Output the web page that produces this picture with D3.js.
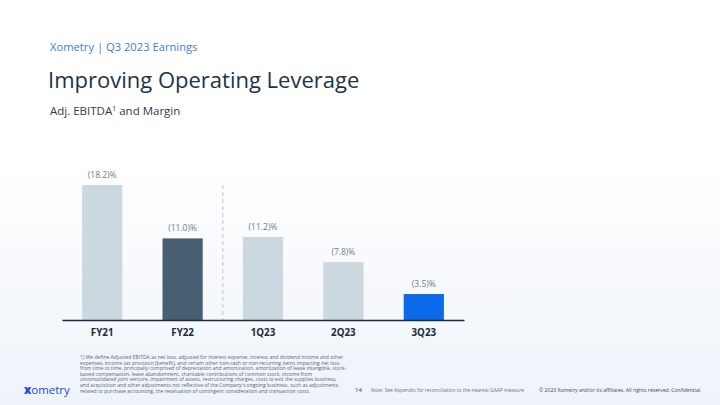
<!DOCTYPE html>
<html><head><meta charset="utf-8">
<script src="https://cdn.jsdelivr.net/npm/d3@7"></script>
<style>body{margin:0;padding:0;overflow:hidden}svg{display:block}text{font-family:"Open Sans",sans-serif}</style>
</head><body>
<svg id="c" width="720" height="405"></svg>
<script>
const categories = ["FY21", "FY22", "1Q23", "2Q23", "3Q23"];
const margins = [-18.2, -11.0, -11.2, -7.8, -3.5];
const valueLabels = ["(18.2)%", "(11.0)%", "(11.2)%", "(7.8)%", "(3.5)%"];
const barColors = ["#cbd8df", "#485f72", "#cbd8df", "#cbd8df", "#0b6ae8"];
const footnoteLines = [
 "1) We define Adjusted EBITDA as net loss, adjusted for interest expense, interest and dividend income and other",
 "expenses, income tax provision (benefit), and certain other non-cash or non-recurring items impacting net loss",
 "from time to time, principally comprised of depreciation and amortization, amortization of lease intangible, stock-",
 "based compensation, lease abandonment, charitable contributions of common stock, income from",
 "unconsolidated joint venture, impairment of assets, restructuring charges, costs to exit the supplies business,",
 "and acquisition and other adjustments not reflective of the Company's ongoing business, such as adjustments",
 "related to purchase accounting, the revaluation of contingent consideration and transaction costs."
];

const svg = d3.select("#c");
const defs = svg.append("defs");
const g = defs.append("linearGradient").attr("id","bg").attr("x1",0).attr("y1",0).attr("x2",0).attr("y2",1);
g.append("stop").attr("offset","0.4").attr("stop-color","#ffffff");
g.append("stop").attr("offset","1").attr("stop-color","#eef3fa");
svg.append("rect").attr("width",720).attr("height",405).attr("fill","url(#bg)");

// Header
svg.append("text").attr("x",50).attr("y",51).attr("font-size",11.2).attr("fill","#3b7de0").text("Xometry | Q3 2023 Earnings");
svg.append("text").attr("x",48).attr("y",88).attr("font-size",22).attr("fill","#1d3349").text("Improving Operating Leverage");
const sub = svg.append("text").attr("x",50).attr("y",115).attr("font-size",11.5).attr("fill","#2e3c4a");
sub.append("tspan").text("Adj. EBITDA");
sub.append("tspan").attr("font-size",7).attr("dy",-4).text("1");
sub.append("tspan").attr("dy",4).text(" and Margin");

// Chart
const x = d3.scaleBand().domain(categories).range([62, 464]).paddingInner(0.5).paddingOuter(0.25);
const y = d3.scaleLinear().domain([0, 18.2]).range([320, 185]);

const sepX = (x("FY22") + x.bandwidth() + x("1Q23")) / 2;
svg.append("line").attr("x1",sepX).attr("x2",sepX).attr("y1",y(18.2)).attr("y2",320)
  .attr("stroke","#c5cfd6").attr("stroke-width",1.2).attr("stroke-dasharray","4,3");

svg.selectAll("rect.bar").data(categories).join("rect").attr("class","bar")
  .attr("x", d => x(d)).attr("width", x.bandwidth())
  .attr("y", (d,i) => y(-margins[i])).attr("height", (d,i) => 320 - y(-margins[i]))
  .attr("fill", (d,i) => barColors[i]);

svg.selectAll("text.val").data(categories).join("text").attr("class","val")
  .attr("x", d => x(d) + x.bandwidth()/2).attr("y", (d,i) => y(-margins[i]) - 7)
  .attr("text-anchor","middle").attr("font-size",8.5).attr("fill","#6f7d88")
  .text((d,i) => valueLabels[i]);

const axis = d3.axisBottom(x).tickSize(0).tickPadding(9);
const ax = svg.append("g").attr("transform","translate(0,320)").call(axis);
ax.select(".domain").attr("stroke","#1c2b3c").attr("stroke-width",1.3);
ax.selectAll("text").attr("font-family","'Open Sans',sans-serif").attr("font-size",9.8)
  .attr("font-weight","bold").attr("fill","#1c2b3c");

// Footer
const fn = svg.append("text").attr("font-size",5.05).attr("fill","#5c6670");
footnoteLines.forEach((l,i) => fn.append("tspan").attr("x",80).attr("y",359 + i*5.6).text(l));

const logo = svg.append("text").attr("x",24).attr("y",394).attr("font-size",11.5).attr("fill","#2747d9")
  .attr("font-family","Lato, sans-serif");
logo.append("tspan").attr("font-weight","900").text("x");
logo.append("tspan").text("ometry");
svg.append("text").attr("x",355).attr("y",392).attr("font-size",6).attr("fill","#2e3c4a").text("14");
svg.append("text").attr("x",371).attr("y",392).attr("font-size",4.9).attr("fill","#6a7580")
  .text("Note: See Appendix for reconciliation to the nearest GAAP measure");
svg.append("text").attr("x",539).attr("y",392).attr("font-size",5.1).attr("fill","#3c4853")
  .text("© 2023  Xometry and/or its affiliates. All rights reserved. Confidential.");
</script>
</body></html>
